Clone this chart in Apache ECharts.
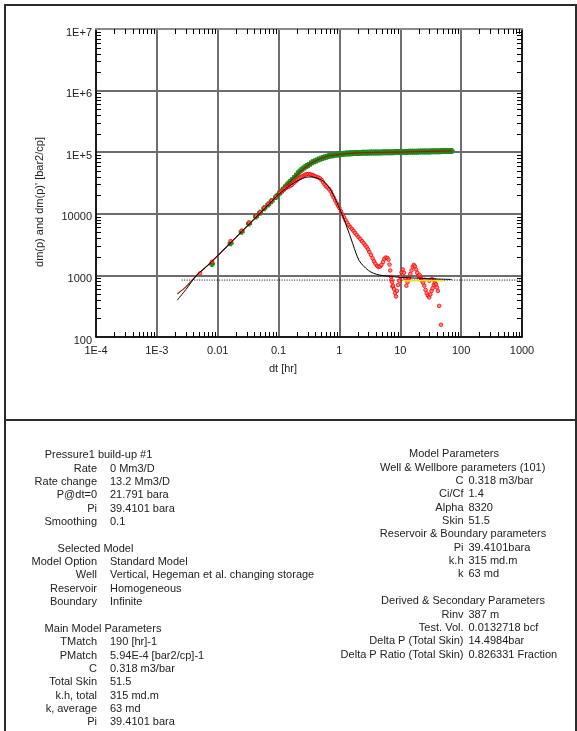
<!DOCTYPE html>
<html><head><meta charset="utf-8">
<script src="https://cdn.jsdelivr.net/npm/echarts@6/dist/echarts.min.js"></script>
<style>html,body{margin:0;padding:0;background:#fff}#c{width:577px;height:731px}</style>
</head><body><div id="c"></div>
<script>
// ---------- tick labels ----------
const xTickLabels = ['1E-4','1E-3','0.01','0.1','1','10','100','1000'];
const yTickLabels = ['100','1000','10000','1E+5','1E+6','1E+7'];
const minorMultiples = [2,3,4,5,6,7,8,9];

// ---------- pressure change data (green) ----------
const pressX = [0.00805,0.0163,0.0248,0.0327,0.0426,0.0495,0.0582,0.0678,0.0771,0.0907,0.1,0.108,0.116,0.125,0.134,0.143,0.153,0.164,0.176,0.189,0.203,0.218,0.234,0.251,0.27,0.29,0.31,0.335,0.36,0.39,0.42,0.45,0.49,0.53,0.57,0.62,0.67,0.73,0.8,0.87,0.95,
  1.0,1.1,1.2,1.3,1.4,1.5,1.6,1.75,1.9,2.05,2.2,2.4,2.6,2.8,3.0,3.25,3.5,3.8,4.1,4.4,4.8,5.2,5.6,6.0,6.5,7.0,7.6,8.2,8.9,9.6,10.4,11.2,12.1,13.1,14.2,15.3,16.5,17.8,19.2,20.8,22.5,24.3,26.2,28.3,30.6,33,35.7,38.5,41.6,45,48.6,52.5,56.7,61.2,66,70];
const pressY = [1530,3320,5100,6950,9000,10400,12300,14200,16100,18800,20800,22500,24300,26300,28500,30500,32700,35000,37500,40500,44000,48000,51000,54000,57000,59500,62000,65500,68500,71000,73500,76000,78500,80800,82800,84700,86500,88000,89500,91000,92000,
  93000,93900,94600,95100,95600,96000,96300,96700,97000,97300,97500,97700,97900,98100,98300,98500,98600,98800,99000,99100,99300,99400,99600,99700,99900,100000,100100,100300,100400,100600,100700,100900,101000,101200,101300,101500,101600,101800,102000,102200,102400,102500,102700,102900,103100,103300,103500,103700,103900,104100,104300,104500,104600,104800,104900,105000];

// ---------- derivative data (red) ----------
const derivX = [0.00512,0.00805,0.0163,0.0248,0.0327,0.0426,0.0495,0.0582,0.0678,0.0771,0.0907,0.1055,0.112,0.12,0.128,0.136,0.145,0.155,0.165,0.177,0.19,0.2,0.215,0.23,0.245,0.26,0.275,0.29,0.31,0.33,0.35,0.37,0.39,0.42,0.45,0.48,0.51,0.54,0.57,0.6,0.64,0.68,0.72,0.76,0.8,0.85,0.9,0.95,1.0,1.06,1.12,1.19,1.26,1.33,1.41,1.5,1.6,1.7,1.8,1.92,2.05,2.2,2.35,2.5,2.65,2.8,2.95,3.1,3.3,3.5,3.7,3.9,4.15,4.4,4.65,4.9,5.2,5.45,5.75,6.1,6.4,6.65,6.85,7.05,7.2,7.3,7.45,7.6,7.9,8.2,8.5,8.8,9.2,9.6,10.0,10.5,11.0,11.5,12.0,12.6,13.2,13.9,14.6,15.3,16.0,16.7,17.4,18.2,19.0,19.8,20.7,21.6,22.0,22.6,23.7,24.8,25.0,26.0,27.2,28.5,29.8,30.0,31.2,32.6,33.0,34.0,35.5,36.0,37.0,38.5,40.0,41.5,43.5,46.5];
const derivY = [1082,1668,3613,5320,7180,9200,10570,12560,14430,16330,18970,22020,23000,24300,25600,26800,27300,28200,29500,31500,33500,35000,37000,39000,40500,42000,43200,44000,44300,43800,43000,42200,41200,40000,39000,37500,35500,32500,30000,28000,26500,25000,23000,20500,18500,16500,14800,13500,12400,11000,9800,8800,7900,7200,6600,6100,5700,5300,4900,4550,4200,3900,3600,3350,3100,2900,2650,2400,2150,1900,1700,1550,1430,1370,1390,1480,1650,1850,1950,1920,1800,1500,1200,950,840,780,660,680,600,520,455,560,700,820,950,1120,1250,1100,900,680,780,900,1050,1200,1380,1480,1400,1250,1100,980,1020,920,870,820,760,680,850,580,510,470,440,820,490,560,870,620,700,840,760,720,640,560,320,158];

// ---------- model curves ----------
const modelPX = [0.00217,0.003,0.0045,0.007,0.01,0.02,0.05,0.1,0.15,0.2,0.25,0.3,0.4,0.5,0.7,1.0,1.5,2,3,5,10,20,40,70];
const modelPY = [499,650,1000,1480,2100,4150,10400,20800,32000,42500,52500,60500,72000,79000,87500,92500,96200,97500,98500,99500,100600,102200,103800,104900];
const modelDX = [0.00217,0.003,0.0045,0.007,0.01,0.02,0.05,0.1,0.13,0.16,0.2,0.25,0.29,0.34,0.4,0.47,0.55,0.62,0.7,0.8,0.9,1.0,1.1,1.2,1.33,1.47,1.65,1.87,2.1,2.44,3.0,3.6,4.6,6,8,10,15,20,30,45,70];
const modelDY = [398,590,1000,1480,2080,4150,10300,20500,25500,29500,34000,37500,39300,39700,38700,36800,33500,30000,25500,20000,15500,12300,9900,8100,6000,4600,3300,2300,1750,1450,1200,1090,1010,980,950,930,910,900,885,870,860];
const stabX = [0.00256,1000];
const stabY = [840,840];
const yellowX = [11,52];
const yellowY = [815,815];

// ---------- text panel ----------
const leftLines = [
  ['H','Pressure1 build-up #1'],
  ['Rate','0 Mm3/D'],
  ['Rate change','13.2 Mm3/D'],
  ['P@dt=0','21.791 bara'],
  ['Pi','39.4101 bara'],
  ['Smoothing','0.1'],
  null,
  ['H','Selected Model'],
  ['Model Option','Standard Model'],
  ['Well','Vertical, Hegeman et al. changing storage'],
  ['Reservoir','Homogeneous'],
  ['Boundary','Infinite'],
  null,
  ['H','Main Model Parameters'],
  ['TMatch','190 [hr]-1'],
  ['PMatch','5.94E-4 [bar2/cp]-1'],
  ['C','0.318 m3/bar'],
  ['Total Skin','51.5'],
  ['k.h, total','315 md.m'],
  ['k, average','63 md'],
  ['Pi','39.4101 bara']
];
const rightLines = [
  ['H','Model Parameters'],
  ['H','Well & Wellbore parameters (101)'],
  ['C','0.318 m3/bar'],
  ['Ci/Cf','1.4'],
  ['Alpha','8320'],
  ['Skin','51.5'],
  ['H','Reservoir & Boundary parameters'],
  ['Pi','39.4101bara'],
  ['k.h','315 md.m'],
  ['k','63 md'],
  null,
  ['H','Derived & Secondary Parameters'],
  ['Rinv','387 m'],
  ['Test. Vol.','0.0132718 bcf'],
  ['Delta P (Total Skin)','14.4984bar'],
  ['Delta P Ratio (Total Skin)','0.826331 Fraction']
];
const xAxisTitle = 'dt [hr]';
const yAxisTitle = "dm(p) and dm(p)' [bar2/cp]";

// ---------- build ----------
const FONT = 'Liberation Sans';
const TXT = '#222';
const X_MIN = 1e-4, X_MAX = 1000, Y_MIN = 100, Y_MAX = 1e7;
const zip = (a, b) => a.map((v, i) => [v, b[i]]);

function minorValues(lo, hi) {
  const out = [];
  for (let e = Math.round(Math.log10(lo)); e < Math.round(Math.log10(hi)); e++) {
    minorMultiples.forEach(m => out.push(m * Math.pow(10, e)));
  }
  return out;
}
const labelFor = (labels, lo, rich) => v => {
  const i = Math.round(Math.log10(v)) - Math.round(Math.log10(lo));
  const s = labels[i] !== undefined ? labels[i] : '';
  return rich ? '{a|' + s + '}' : s;
};

function tickSeries(axis) {
  const vals = axis === 'x' ? minorValues(X_MIN, X_MAX) : minorValues(Y_MIN, Y_MAX);
  return {
    type: 'custom', silent: true, z: 10, clip: false,
    data: vals.map(v => axis === 'x' ? [v, 1000] : [1, v]),
    renderItem(params, api) {
      const L = 5;
      if (axis === 'x') {
        const v = api.value(0);
        const b = api.coord([v, Y_MIN]), t = api.coord([v, Y_MAX]);
        const x = Math.round(b[0]) + 0.5;
        return { type: 'group', children: [
          { type: 'line', shape: { x1: x, y1: b[1], x2: x, y2: b[1] - L }, style: { stroke: '#000', lineWidth: 1 } },
          { type: 'line', shape: { x1: x, y1: t[1], x2: x, y2: t[1] + L }, style: { stroke: '#000', lineWidth: 1 } }
        ]};
      } else {
        const v = api.value(1);
        const l = api.coord([X_MIN, v]), r = api.coord([X_MAX, v]);
        const y = Math.round(l[1]) + 0.5;
        return { type: 'group', children: [
          { type: 'line', shape: { x1: l[0], y1: y, x2: l[0] + L, y2: y }, style: { stroke: '#000', lineWidth: 1 } },
          { type: 'line', shape: { x1: r[0], y1: y, x2: r[0] - L, y2: y }, style: { stroke: '#000', lineWidth: 1 } }
        ]};
      }
    }
  };
}

const graphics = [
  { type: 'rect', shape: { x: 5, y: 5, width: 571, height: 735 }, style: { fill: null, stroke: '#2b2b2b', lineWidth: 2 }, silent: true },
  { type: 'line', shape: { x1: 5, y1: 420, x2: 577, y2: 420 }, style: { stroke: '#2b2b2b', lineWidth: 2 }, silent: true },
  { type: 'text', x: 283, y: 369, style: { text: xAxisTitle, font: '11px ' + FONT, fill: TXT, textAlign: 'center', textVerticalAlign: 'middle' } },
  { type: 'text', x: 40, y: 202, rotation: Math.PI / 2, style: { text: yAxisTitle, font: '11px ' + FONT, fill: TXT, textAlign: 'center', textVerticalAlign: 'middle' } }
];

function addBlock(lines, y0, lh, labelRight, valueLeft, headerCenters) {
  let h = 0;
  lines.forEach((ln, i) => {
    if (!ln) return;
    const y = y0 + i * lh;
    if (ln[0] === 'H') {
      graphics.push({ type: 'text', x: headerCenters[h++], y, style: { text: ln[1], font: '11px ' + FONT, fill: TXT, textAlign: 'center', textVerticalAlign: 'middle' } });
    } else {
      graphics.push({ type: 'text', x: labelRight, y, style: { text: ln[0], font: '11px ' + FONT, fill: TXT, textAlign: 'right', textVerticalAlign: 'middle' } });
      graphics.push({ type: 'text', x: valueLeft, y, style: { text: ln[1], font: '11px ' + FONT, fill: TXT, textAlign: 'left', textVerticalAlign: 'middle' } });
    }
  });
}
addBlock(leftLines, 455.3, 13.35, 97, 110, [98.5, 95.5, 103]);
addBlock(rightLines, 454.3, 13.35, 463.5, 468.5, [454, 462.7, 463, 463]);

const plusSym = 'path://M1.5,0H4.5V1.5H6V4.5H4.5V6H1.5V4.5H0V1.5H1.5Z';

const option = {
  animation: false,
  backgroundColor: '#fff',
  grid: { left: 96, top: 29, width: 426, height: 308, containLabel: false },
  xAxis: [
    { type: 'log', logBase: 10, min: X_MIN, max: X_MAX, position: 'bottom',
      axisLine: { show: true, lineStyle: { color: '#000', width: 1.5 } },
      axisTick: { show: false },
      axisLabel: { formatter: labelFor(xTickLabels, X_MIN, false), fontFamily: FONT, fontSize: 11, color: TXT, margin: 8, showMinLabel: true, showMaxLabel: true },
      splitLine: { show: true, lineStyle: { color: '#6e6e6e', width: 2 } } },
    { type: 'log', logBase: 10, min: X_MIN, max: X_MAX, position: 'top',
      axisLine: { show: true, lineStyle: { color: '#8a8a8a', width: 2 } },
      axisTick: { show: false }, axisLabel: { show: false }, splitLine: { show: false } }
  ],
  yAxis: [
    { type: 'log', logBase: 10, min: Y_MIN, max: Y_MAX, position: 'left',
      axisLine: { show: true, lineStyle: { color: '#000', width: 1.5 } },
      axisTick: { show: false },
      axisLabel: { formatter: labelFor(yTickLabels, Y_MIN, true), fontFamily: FONT, fontSize: 11, color: TXT, margin: 4, showMinLabel: true, showMaxLabel: true,
        rich: { a: { fontFamily: FONT, fontSize: 11, color: TXT, padding: [7, 0, 0, 0] } } },
      splitLine: { show: true, lineStyle: { color: '#3c3c3c', width: 1.5 } } },
    { type: 'log', logBase: 10, min: Y_MIN, max: Y_MAX, position: 'right',
      axisLine: { show: true, lineStyle: { color: '#000', width: 1.5 } },
      axisTick: { show: false }, axisLabel: { show: false }, splitLine: { show: false } }
  ],
  series: [
    tickSeries('x'),
    tickSeries('y'),
    { type: 'line', name: 'stab', data: zip(stabX, stabY), showSymbol: false, z: 3,
      lineStyle: { color: '#000', width: 1, type: [1, 1.5] } },
    { type: 'scatter', name: 'dm(p)', data: zip(pressX, pressY), symbol: plusSym, symbolSize: 6, z: 4,
      itemStyle: { color: '#1f8a1f', opacity: 1 } },
    { type: 'line', name: 'model dm(p)', data: zip(modelPX, modelPY), showSymbol: false, smooth: 0.3, z: 5,
      lineStyle: { color: '#a01800', width: 1.2 } },
    { type: 'scatter', name: "dm(p)'", data: zip(derivX, derivY), symbol: 'circle', symbolSize: 3.6, z: 6,
      itemStyle: { color: '#ff6a6a', borderColor: '#ff0000', borderWidth: 1 } },
    { type: 'line', name: 'yellow', data: zip(yellowX, yellowY), showSymbol: false, z: 7,
      lineStyle: { color: '#e8e800', width: 1.5 } },
    { type: 'line', name: "model dm(p)'", data: zip(modelDX, modelDY), showSymbol: false, smooth: 0.3, z: 8,
      lineStyle: { color: '#000', width: 1 } }
  ],
  graphic: graphics
};

const chart = echarts.init(document.getElementById('c'), null, { renderer: 'canvas' });
chart.setOption(option);
</script>
</body></html>
